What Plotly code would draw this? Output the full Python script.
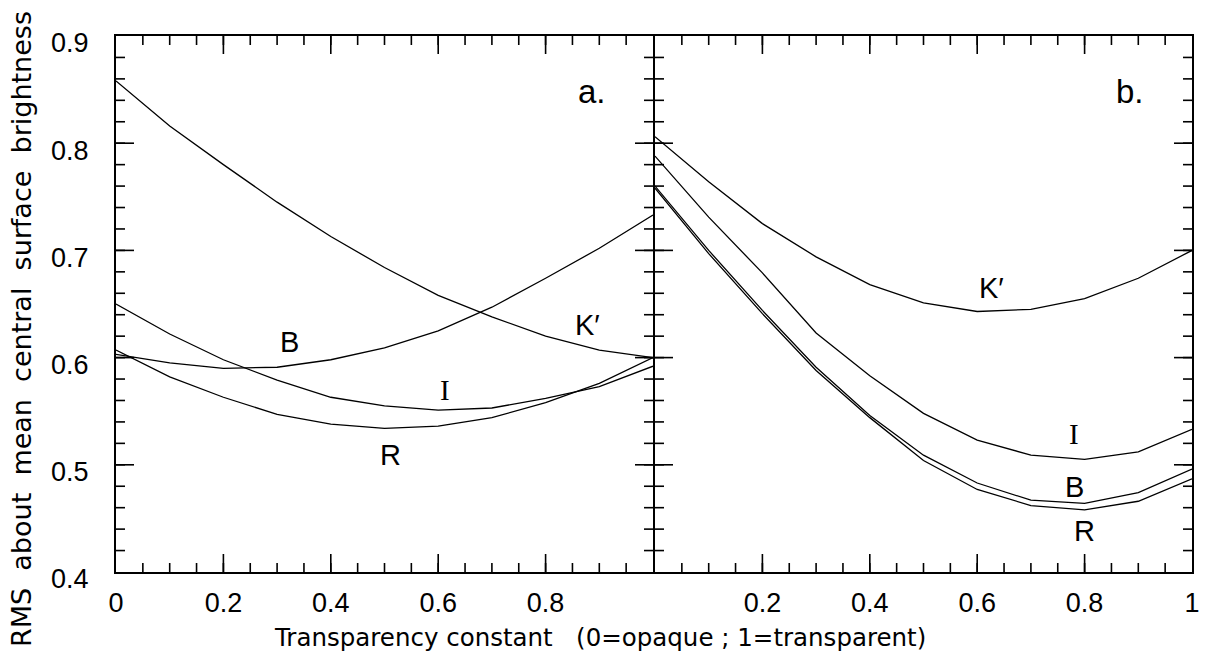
import plotly.graph_objects as go

# ---- data ----
x_vals = [0.0, 0.1, 0.2, 0.3, 0.4, 0.5, 0.6, 0.7, 0.8, 0.9, 1.0]

# panel a
K_a = [0.858, 0.816, 0.780, 0.745, 0.713, 0.684, 0.658, 0.638, 0.620, 0.607, 0.600]
B_a = [0.603, 0.595, 0.590, 0.591, 0.598, 0.609, 0.625, 0.647, 0.674, 0.702, 0.733]
I_a = [0.650, 0.622, 0.598, 0.579, 0.563, 0.555, 0.551, 0.553, 0.562, 0.573, 0.592]
R_a = [0.607, 0.582, 0.563, 0.547, 0.538, 0.534, 0.536, 0.544, 0.558, 0.576, 0.600]

# panel b
K_b = [0.806, 0.764, 0.725, 0.694, 0.668, 0.651, 0.643, 0.645, 0.655, 0.674, 0.700]
I_b = [0.788, 0.731, 0.679, 0.623, 0.583, 0.548, 0.523, 0.509, 0.505, 0.512, 0.533]
B_b = [0.760, 0.700, 0.644, 0.591, 0.546, 0.509, 0.483, 0.467, 0.464, 0.474, 0.496]
R_b = [0.758, 0.697, 0.641, 0.588, 0.544, 0.504, 0.477, 0.462, 0.458, 0.466, 0.487]

xtick_a_vals = [0, 0.2, 0.4, 0.6, 0.8]
xtick_a_text = ["0", "0.2", "0.4", "0.6", "0.8"]
xtick_b_vals = [0.2, 0.4, 0.6, 0.8, 1.0]
xtick_b_text = ["0.2", "0.4", "0.6", "0.8", "1"]
ytick_vals = [0.4, 0.5, 0.6, 0.7, 0.8, 0.9]
ytick_text = ["0.4", "0.5", "0.6", "0.7", "0.8", "0.9"]
x_major = [0.2, 0.4, 0.6, 0.8]
x_minor = [round(i * 0.05, 2) for i in range(1, 20)]
y_major = [0.5, 0.6, 0.7, 0.8]
y_minor = [round(0.4 + i * 0.02, 2) for i in range(1, 25)]

# curve labels: (panel, text, x, y, font)
labels = [
    ("a", "B", 0.323, 0.6145, "sans"),
    ("a", "I", 0.613, 0.5695, "serif"),
    ("a", "R", 0.511, 0.5087, "sans"),
    ("a", "K′", 0.878, 0.630, "sans"),
    ("b", "K′", 0.626, 0.6645, "sans"),
    ("b", "I", 0.781, 0.529, "serif"),
    ("b", "B", 0.782, 0.479, "sans"),
    ("b", "R", 0.800, 0.4386, "sans"),
]
panel_tags = [("a", "a.", 0.887, 0.848), ("b", "b.", 0.884, 0.848)]

fig = go.Figure()
line_style = dict(color="black", width=1.3)
for ys in (K_a, B_a, I_a, R_a):
    fig.add_trace(go.Scatter(x=x_vals, y=ys, mode="lines", line=line_style,
                             xaxis="x", yaxis="y", showlegend=False, hoverinfo="skip"))
for ys in (K_b, I_b, B_b, R_b):
    fig.add_trace(go.Scatter(x=x_vals, y=ys, mode="lines", line=line_style,
                             xaxis="x2", yaxis="y2", showlegend=False, hoverinfo="skip"))

sans = "Liberation Sans, Arial, sans-serif"
serif = "Liberation Serif, Times New Roman, serif"
tickfont = dict(family=sans, size=27, color="black")

LW = 2
PW = 1206 - 116 - 13.5
PH = 667 - 36 - 95
g = (LW / 2) / PW
dom_a = [0, 0.5 - g]
dom_b = [0.5 + g, 1]
panel_w = PW * (0.5 - g)

axis_style = dict(showgrid=False, zeroline=False, showline=True, linecolor="black",
                  linewidth=LW, mirror=True, ticks="", fixedrange=True)

fig.update_layout(
    width=1206, height=667,
    margin=dict(l=116, r=13.5, t=36, b=95),
    paper_bgcolor="white", plot_bgcolor="white",
    template="none",
    xaxis=dict(domain=dom_a, anchor="y", range=[0, 1], tickmode="array", tickvals=xtick_a_vals,
               ticktext=xtick_a_text, tickfont=tickfont, ticklabelstandoff=6, **axis_style),
    xaxis2=dict(domain=dom_b, anchor="y2", range=[0, 1], tickmode="array", tickvals=xtick_b_vals,
                ticktext=xtick_b_text, tickfont=tickfont, ticklabelstandoff=6, **axis_style),
    yaxis=dict(domain=[0, 1], anchor="x", range=[0.4, 0.9], tickmode="array", tickvals=ytick_vals,
               ticktext=ytick_text, tickfont=tickfont, ticklabelstandoff=20,
               ticklabelshift=7, **axis_style),
    yaxis2=dict(domain=[0, 1], anchor="x2", range=[0.4, 0.9], showticklabels=False, **axis_style),
)

# tick marks (inside, on all four sides of each panel), placed on each axis' scale
tick_line = dict(color="black", width=1.6)
for xa, ya in (("x", "y"), ("x2", "y2")):
    for vals, ln in ((x_major, 18), (x_minor, 9)):
        f = ln / PH
        for v in vals:
            fig.add_shape(type="line", xref=xa, yref=f"{ya} domain", x0=v, x1=v, y0=0, y1=f,
                          line=tick_line, layer="above")
            fig.add_shape(type="line", xref=xa, yref=f"{ya} domain", x0=v, x1=v, y0=1 - f, y1=1,
                          line=tick_line, layer="above")
    for vals, ln in ((y_major, 18), (y_minor, 9)):
        f = ln / panel_w
        for v in vals:
            fig.add_shape(type="line", xref=f"{xa} domain", yref=ya, x0=0, x1=f, y0=v, y1=v,
                          line=tick_line, layer="above")
            fig.add_shape(type="line", xref=f"{xa} domain", yref=ya, x0=1 - f, x1=1, y0=v, y1=v,
                          line=tick_line, layer="above")

for panel, text, x, y, f in labels:
    ax = "x" if panel == "a" else "x2"
    ay = "y" if panel == "a" else "y2"
    fig.add_annotation(x=x, y=y, xref=ax, yref=ay, text=text, showarrow=False,
                       font=dict(family=serif if f == "serif" else sans, size=29, color="black"))
for panel, text, x, y in panel_tags:
    ax = "x" if panel == "a" else "x2"
    ay = "y" if panel == "a" else "y2"
    fig.add_annotation(x=x, y=y, xref=ax, yref=ay, text=text, showarrow=False,
                       font=dict(family=sans, size=33, color="black"))

fig.add_annotation(x=(600 - 116) / PW, y=(572 - 637) / PH, xref="paper", yref="paper",
                   xanchor="center", yanchor="middle",
                   text="Transparency constant\u00a0\u00a0\u00a0(0=opaque ; 1=transparent)",
                   showarrow=False, font=dict(family="DejaVu Sans, sans-serif", size=24.5, color="black"))
fig.add_annotation(x=(22 - 116) / PW, y=(572 - 329) / PH, xref="paper", yref="paper",
                   xanchor="center", yanchor="middle",
                   text="RMS\u00a0 about\u00a0 mean\u00a0 central\u00a0 surface\u00a0 brightness",
                   showarrow=False, textangle=-90,
                   font=dict(family="DejaVu Sans, sans-serif", size=27, color="black"))

fig.write_html("out.html")
